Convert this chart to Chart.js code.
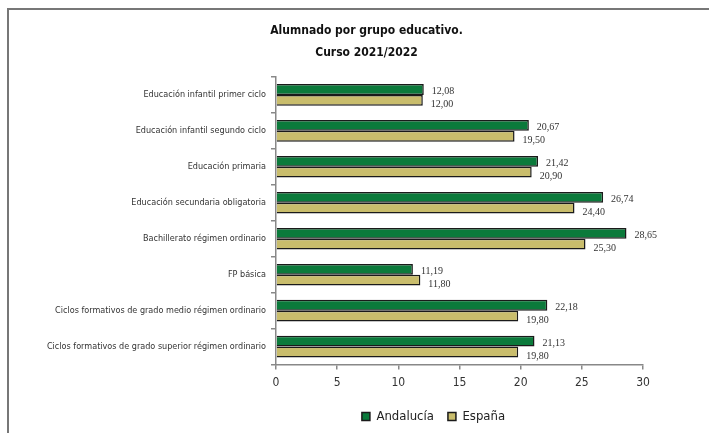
<!DOCTYPE html>
<html>
<head>
<meta charset="utf-8">
<script src="https://cdn.jsdelivr.net/npm/chart.js@4"></script>
<style>
  html, body { margin: 0; padding: 0; background: #fff; }
  #wrap { position: relative; width: 709px; height: 433px; }
  #frame { position: absolute; left: 7px; top: 8px; right: 0; bottom: 0;
           border-top: 2px solid #777; border-left: 2px solid #777; pointer-events: none; }
</style>
</head>
<body>
<div id="wrap">
  <canvas id="chart" width="709" height="433"></canvas>
  <div id="frame"></div>
</div>
<script>
// data
const categories = [
    'Educación infantil primer ciclo',
    'Educación infantil segundo ciclo',
    'Educación primaria',
    'Educación secundaria obligatoria',
    'Bachillerato régimen ordinario',
    'FP básica',
    'Ciclos formativos de grado medio régimen ordinario',
    'Ciclos formativos de grado superior régimen ordinario'
];
const andalucia = [12.08, 20.67, 21.42, 26.74, 28.65, 11.19, 22.18, 21.13];
const espana = [12.00, 19.50, 20.90, 24.40, 25.30, 11.80, 19.80, 19.80];
const xTicks = [0, 5, 10, 15, 20, 25, 30];

const sansFont = '"DejaVu Sans Condensed", "Liberation Sans Narrow", "Open Sans", sans-serif';

// value labels to the right of each bar
const valueLabels = {
    id: 'valueLabels',
    afterDatasetsDraw(chart) {
        const ctx = chart.ctx;
        ctx.save();
        ctx.font = '10px "Liberation Serif", "DejaVu Serif", serif';
        ctx.fillStyle = '#333';
        ctx.textAlign = 'left';
        ctx.textBaseline = 'middle';
        chart.data.datasets.forEach((ds, i) => {
            const meta = chart.getDatasetMeta(i);
            const dy = i === 0 ? 2 : 4;
            meta.data.forEach((bar, j) => {
                const txt = ds.data[j].toFixed(2).replace('.', ',');
                ctx.fillText(txt, bar.x + 8, bar.y + dy);
            });
        });
        ctx.restore();
    }
};

// title and legend in the reference are not centred on the same box as Chart.js
const shiftBoxes = {
    id: 'shiftBoxes',
    beforeDraw(chart) {
        const lg = chart.legend;
        if (lg && !lg._shifted) {
            lg.left -= 26;
            lg.right -= 26;
            lg._shifted = true;
        }
        const tt = chart.titleBlock;
        if (tt && !tt._shifted) {
            tt.left += 35;
            tt.right += 35;
            tt._shifted = true;
        }
    }
};

new Chart(document.getElementById('chart').getContext('2d'), {
    type: 'bar',
    data: {
        labels: categories,
        datasets: [{
                label: 'Andalucía',
                data: andalucia,
                backgroundColor: '#0b7a3b',
                borderColor: '#1a1a1a',
                borderWidth: 1.5
            },
            {
                label: 'España',
                data: espana,
                backgroundColor: '#c9bd6c',
                borderColor: '#1a1a1a',
                borderWidth: 1.5
            }
        ]
    },
    options: {
        indexAxis: 'y',
        responsive: false,
        maintainAspectRatio: false,
        animation: false,
        layout: {
            padding: { left: 20, right: 66, top: 12, bottom: 0 }
        },
        datasets: {
            bar: {
                categoryPercentage: 0.6,
                barPercentage: 1.0
            }
        },
        plugins: {
            title: {
                display: true,
                text: ['Alumnado por grupo educativo.', 'Curso 2021/2022'],
                color: '#111',
                font: { family: sansFont, size: 12, weight: 'bold', lineHeight: 1.83 },
                padding: { top: 8, bottom: 13 }
            },
            legend: {
                position: 'bottom',
                fullSize: false,
                labels: {
                    boxWidth: 8,
                    boxHeight: 8,
                    color: '#222',
                    padding: 14,
                    font: { family: sansFont, size: 13 }
                }
            },
            tooltip: { enabled: false }
        },
        scales: {
            x: {
                min: 0,
                max: 30,
                afterBuildTicks(scale) {
                    scale.ticks = xTicks.map(v => ({ value: v }));
                },
                grid: {
                    drawOnChartArea: false,
                    drawTicks: true,
                    tickLength: 5,
                    color: '#888',
                    lineWidth: 1.5
                },
                border: { color: '#888', width: 1.5 },
                ticks: {
                    color: '#333',
                    padding: 6,
                    font: { family: sansFont, size: 12 }
                }
            },
            y: {
                afterFit(scale) {
                    scale.width = 256;
                },
                grid: {
                    drawOnChartArea: false,
                    drawTicks: true,
                    tickLength: 5,
                    color: '#888',
                    lineWidth: 1.5
                },
                border: { color: '#888', width: 1.5 },
                ticks: {
                    color: '#333',
                    padding: 5,
                    font: { family: sansFont, size: 9 }
                }
            }
        }
    },
    plugins: [valueLabels, shiftBoxes]
});
</script>
</body>
</html>
